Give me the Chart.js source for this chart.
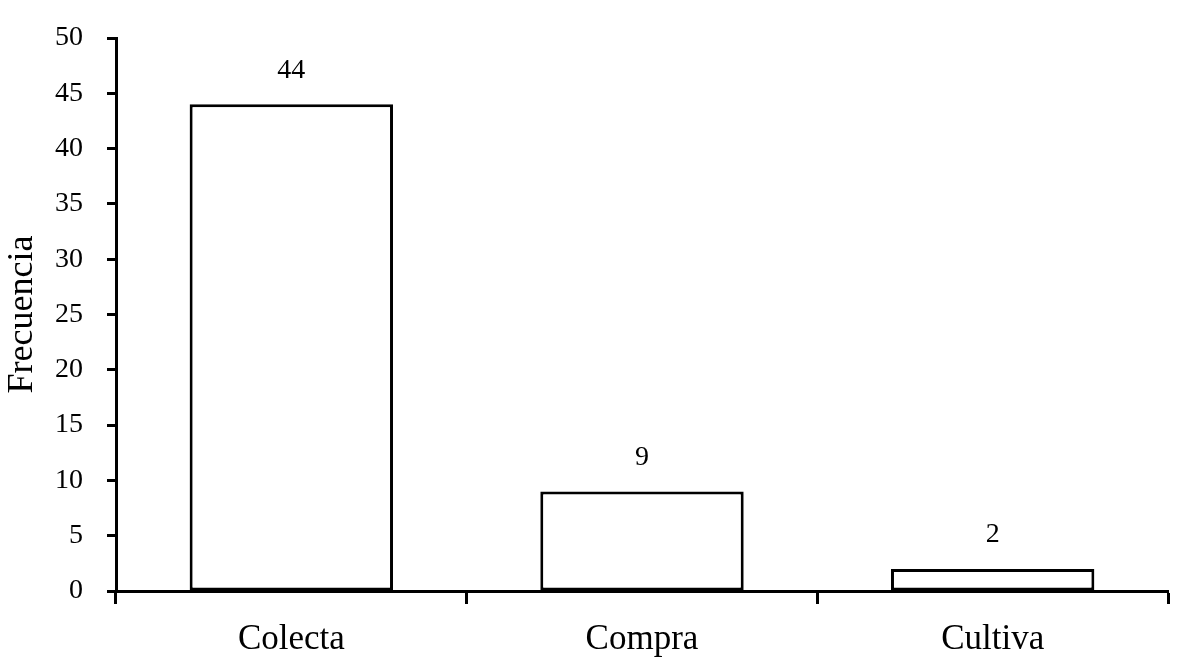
<!DOCTYPE html>
<html>
<head>
<meta charset="utf-8">
<script src="https://cdn.jsdelivr.net/npm/chart.js@4.4.1/dist/chart.umd.min.js"></script>
<style>
  html, body { margin: 0; padding: 0; background: #ffffff; }
  #wrap { width: 1203px; height: 665px; position: relative; }
</style>
</head>
<body>
<div id="wrap"><canvas id="c" width="1203" height="665"></canvas></div>
<script>
const categories = ["Colecta", "Compra", "Cultiva"];
const frecuencia = [44, 9, 2];
const yTicks = [0, 5, 10, 15, 20, 25, 30, 35, 40, 45, 50];
const yTitle = "Frecuencia";

const FONT = "'Liberation Serif', 'Times New Roman', serif";

const valueLabels = {
  id: 'valueLabels',
  afterDatasetsDraw(chart) {
    const ctx = chart.ctx;
    const meta = chart.getDatasetMeta(0);
    ctx.save();
    ctx.font = "28px " + FONT;
    ctx.fillStyle = "#000";
    ctx.textAlign = "center";
    ctx.textBaseline = "bottom";
    meta.data.forEach((bar, i) => {
      ctx.fillText(String(chart.data.datasets[0].data[i]), bar.x, bar.y - 20);
    });
    ctx.restore();
  }
};

new Chart(document.getElementById('c'), {
  type: 'bar',
  data: {
    labels: categories,
    datasets: [{
      data: frecuencia,
      backgroundColor: '#ffffff',
      borderColor: '#000000',
      borderWidth: 3,
      borderSkipped: false,
      barPercentage: 0.58,
      categoryPercentage: 1.0
    }]
  },
  options: {
    responsive: false,
    animation: false,
    devicePixelRatio: 1,
    layout: { padding: { left: 0, right: 35, top: 0, bottom: -10 } },
    plugins: {
      legend: { display: false },
      tooltip: { enabled: false }
    },
    scales: {
      x: {
        offset: true,
        border: { display: true, color: '#000', width: 3 },
        grid: {
          display: true, offset: true, drawOnChartArea: false, drawTicks: true,
          tickLength: 13, tickWidth: 3, tickColor: '#000'
        },
        ticks: {
          color: '#000', font: { family: FONT, size: 35, lineHeight: 1.0 }, padding: 18
        }
      },
      y: {
        min: 0, max: 50,
        afterBuildTicks(axis) { axis.ticks = yTicks.map(v => ({ value: v })); },
        afterFit(axis) { axis.width = 116; },
        border: { display: true, color: '#000', width: 3 },
        grid: {
          display: true, drawOnChartArea: false, drawTicks: true,
          tickLength: 9, tickWidth: 3, tickColor: '#000'
        },
        ticks: {
          color: '#000', font: { family: FONT, size: 28, lineHeight: 1.0 }, padding: 24
        },
        title: {
          display: true, text: yTitle, color: '#000',
          font: { family: FONT, size: 36 }, padding: { top: 1, bottom: 4 }
        }
      }
    }
  },
  plugins: [valueLabels]
});
</script>
</body>
</html>
